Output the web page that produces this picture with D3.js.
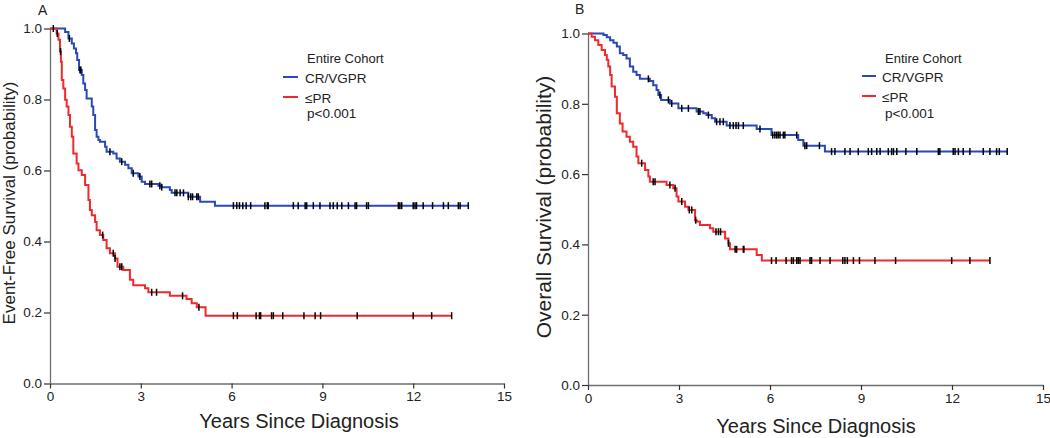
<!DOCTYPE html>
<html><head><meta charset="utf-8">
<script src="https://cdn.jsdelivr.net/npm/d3@7"></script>
<style>
html,body{margin:0;padding:0;background:#fff;}
svg{display:block;font-family:"Liberation Sans",Arial,sans-serif;}
</style></head>
<body><svg id="chart" width="1050" height="438"></svg>
<script>
// ---------- DATA ----------
const xTicks = [0, 3, 6, 9, 12, 15];
const yTicks = [0.0, 0.2, 0.4, 0.6, 0.8, 1.0];
const seriesNames = ["CR/VGPR", "\u2264PR"];

// Panel A: Event-free survival
const aBlueT = [0, 0.50, 0.61, 0.72, 0.79, 0.86, 0.90, 0.96, 1.05, 1.10, 1.16, 1.21, 1.38, 1.43, 1.49, 1.54, 1.60, 1.65, 1.82, 1.87, 2.09, 2.20, 2.31, 2.48, 2.59, 2.70, 2.92, 3.03, 3.14, 3.58, 3.69, 3.96, 4.02, 4.57, 4.96, 5.45];
const aBlueS = [1.0, 0.99, 0.972, 0.958, 0.944, 0.930, 0.911, 0.883, 0.869, 0.845, 0.827, 0.803, 0.780, 0.756, 0.714, 0.695, 0.686, 0.681, 0.667, 0.653, 0.648, 0.634, 0.625, 0.616, 0.606, 0.592, 0.583, 0.568, 0.562, 0.557, 0.553, 0.545, 0.537, 0.526, 0.512, 0.501];
const aBlueEnd = 13.82;
const aBlueCens = [0.64, 0.99, 1.02, 1.98, 2.37, 2.75, 2.97, 3.30, 3.36, 3.63, 3.69, 4.13, 4.19, 4.30, 4.41, 4.57, 4.65, 4.71, 4.85, 4.90, 6.06, 6.17, 6.26, 6.37, 6.48, 6.63, 7.10, 7.18, 7.21, 8.04, 8.20, 8.43, 8.48, 8.70, 8.92, 9.25, 9.36, 9.49, 9.64, 9.86, 10.08, 10.13, 10.46, 10.52, 11.51, 11.56, 11.62, 12.00, 12.06, 12.11, 12.33, 12.64, 13.00, 13.16, 13.49, 13.55, 13.82];

const aRedT = [0, 0.22, 0.28, 0.33, 0.36, 0.39, 0.44, 0.50, 0.55, 0.61, 0.66, 0.72, 0.77, 0.88, 0.94, 1.05, 1.16, 1.27, 1.32, 1.38, 1.49, 1.54, 1.65, 1.76, 1.87, 1.98, 2.15, 2.23, 2.42, 2.64, 2.75, 3.14, 3.25, 3.96, 4.51, 4.68, 4.85, 5.14];
const aRedS = [1.0, 0.986, 0.968, 0.935, 0.906, 0.855, 0.831, 0.799, 0.780, 0.756, 0.723, 0.695, 0.648, 0.620, 0.601, 0.587, 0.559, 0.517, 0.489, 0.474, 0.455, 0.432, 0.418, 0.404, 0.381, 0.367, 0.352, 0.329, 0.320, 0.292, 0.277, 0.268, 0.257, 0.247, 0.238, 0.226, 0.215, 0.191];
const aRedEnd = 13.27;
const aRedCens = [0.11, 0.24, 0.35, 1.74, 2.09, 2.15, 2.31, 2.37, 3.36, 3.52, 4.38, 4.92, 6.06, 6.19, 6.81, 6.92, 6.96, 7.32, 7.38, 7.69, 8.39, 8.76, 8.94, 10.15, 12.00, 12.61, 13.27];

// Panel B: Overall survival
const bBlueT = [0, 0.51, 0.62, 0.73, 0.84, 0.95, 1.05, 1.16, 1.27, 1.38, 1.49, 1.60, 1.71, 2.04, 2.15, 2.26, 2.32, 2.41, 2.70, 2.98, 3.58, 3.80, 3.91, 4.08, 4.19, 4.57, 5.56, 6.05, 6.93, 7.10, 7.81];
const bBlueS = [1.0, 0.996, 0.989, 0.981, 0.974, 0.963, 0.944, 0.939, 0.929, 0.906, 0.891, 0.882, 0.871, 0.865, 0.853, 0.839, 0.825, 0.811, 0.801, 0.787, 0.778, 0.773, 0.768, 0.759, 0.749, 0.738, 0.728, 0.711, 0.697, 0.681, 0.664];
const bBlueEnd = 13.82;
const bBlueCens = [1.99, 2.37, 2.65, 2.76, 3.09, 3.31, 3.64, 3.69, 3.97, 4.24, 4.35, 4.46, 4.68, 4.79, 4.88, 4.96, 5.12, 5.67, 6.09, 6.16, 6.22, 6.27, 6.33, 6.44, 6.49, 6.88, 7.15, 7.21, 7.63, 8.03, 8.14, 8.47, 8.64, 8.91, 9.24, 9.35, 9.52, 9.63, 9.90, 10.01, 10.07, 10.18, 10.48, 10.84, 11.55, 11.60, 12.04, 12.10, 12.21, 12.37, 12.59, 13.03, 13.25, 13.47, 13.56, 13.82];

const bRedT = [0, 0.12, 0.23, 0.34, 0.45, 0.56, 0.62, 0.67, 0.73, 0.78, 0.89, 0.95, 1.05, 1.14, 1.27, 1.38, 1.49, 1.60, 1.66, 1.88, 1.99, 2.04, 2.59, 2.81, 2.92, 2.98, 3.20, 3.31, 3.53, 3.58, 3.69, 4.02, 4.13, 4.52, 4.63, 4.68, 5.56, 5.73];
const bRedS = [1.0, 0.991, 0.981, 0.967, 0.953, 0.939, 0.925, 0.906, 0.882, 0.849, 0.820, 0.773, 0.744, 0.721, 0.706, 0.692, 0.678, 0.650, 0.631, 0.612, 0.593, 0.578, 0.569, 0.560, 0.536, 0.522, 0.507, 0.498, 0.469, 0.465, 0.455, 0.446, 0.436, 0.417, 0.403, 0.386, 0.370, 0.354];
const bRedEnd = 13.25;
const bRedCens = [1.77, 2.15, 2.21, 2.70, 2.87, 3.09, 3.34, 3.42, 3.55, 4.22, 4.30, 4.37, 4.63, 4.85, 4.90, 5.12, 5.14, 6.05, 6.20, 6.53, 6.71, 6.77, 6.88, 6.93, 6.99, 7.32, 7.37, 7.65, 7.98, 8.40, 8.47, 8.55, 8.75, 8.95, 9.46, 10.14, 11.99, 12.59, 13.25];

// ---------- DRAW ----------
const svg = d3.select("#chart");
const BLUE = "#2a48b6", RED = "#ee2a2e";

const panels = [
  {letter:"A", lx:38, ly:11, x0:50, x1:504, yTop:28.5, yBot:383.5,
   ytitle:"Event-Free Survival (probability)", ytx:15, yts:17, yty:203,
   xtx:299, xty:428,
   leg:{lineX0:283, lineX1:298, textX:305, titleX:307, titleY:63, y1:83, y2:103, y3:118},
   series:[{t:aBlueT,s:aBlueS,end:aBlueEnd,c:aBlueCens,col:BLUE},{t:aRedT,s:aRedS,end:aRedEnd,c:aRedCens,col:RED}]},
  {letter:"B", lx:575, ly:10, x0:588, x1:1043, yTop:33.5, yBot:385,
   ytitle:"Overall Survival (probability)", ytx:551, yts:21, yty:207,
   xtx:816, xty:433,
   leg:{lineX0:862, lineX1:876, textX:882, titleX:885, titleY:63, y1:82, y2:102, y3:118},
   series:[{t:bBlueT,s:bBlueS,end:bBlueEnd,c:bBlueCens,col:BLUE},{t:bRedT,s:bRedS,end:bRedEnd,c:bRedCens,col:RED}]}
];

panels.forEach(p => {
  const x = d3.scaleLinear().domain([0, 15]).range([p.x0, p.x1]);
  const y = d3.scaleLinear().domain([0, 1]).range([p.yBot, p.yTop]);
  const g = svg.append("g");

  // axes
  const ax = g.append("g").attr("transform", `translate(0,${p.yBot})`)
    .call(d3.axisBottom(x).tickValues(xTicks).tickSize(5).tickSizeOuter(0).tickPadding(3));
  const ay = g.append("g").attr("transform", `translate(${p.x0},0)`)
    .call(d3.axisLeft(y).tickValues(yTicks).tickFormat(d3.format(".1f")).tickSize(6).tickSizeOuter(0).tickPadding(2));
  [ax, ay].forEach(a => {
    a.selectAll("path.domain").attr("stroke", "#6e6e6e").attr("stroke-width", 1.3);
    a.selectAll(".tick line").attr("stroke", "#333").attr("stroke-width", 1.2);
    a.selectAll(".tick text").attr("font-size", 13.5).attr("fill", "#222")
      .style("font-family", '"Liberation Sans",Arial,sans-serif');
  });

  // curves
  p.series.forEach(se => {
    const pts = se.t.map((t, i) => [t, se.s[i]]);
    pts.push([se.end, se.s[se.s.length - 1]]);
    const line = d3.line().x(d => x(d[0])).y(d => y(d[1])).curve(d3.curveStepAfter);
    g.append("path").attr("d", line(pts)).attr("fill", "none")
      .attr("stroke", se.col).attr("stroke-width", 2);
    const sAt = tt => { let v = se.s[0]; se.t.forEach((t0, i) => { if (t0 <= tt) v = se.s[i]; }); return v; };
    g.selectAll(null).data(se.c).enter().append("line")
      .attr("x1", d => x(d)).attr("x2", d => x(d))
      .attr("y1", d => y(sAt(d)) - 3.5).attr("y2", d => y(sAt(d)) + 3.5)
      .attr("stroke", "#000").attr("stroke-width", 1.5);
  });

  // titles
  g.append("text").attr("x", p.lx).attr("y", p.ly).attr("font-size", 14).attr("fill", "#222")
    .attr("dominant-baseline", "middle").text(p.letter);
  g.append("text").attr("transform", `translate(${p.ytx},${p.yty}) rotate(-90)`)
    .attr("text-anchor", "middle").attr("font-size", p.yts).attr("fill", "#222").text(p.ytitle);
  g.append("text").attr("x", p.xtx).attr("y", p.xty).attr("text-anchor", "middle")
    .attr("font-size", 20).attr("fill", "#222").text("Years Since Diagnosis");

  // legend
  const L = p.leg;
  g.append("text").attr("x", L.titleX).attr("y", L.titleY).attr("font-size", 13).attr("fill", "#222").text("Entire Cohort");
  [[BLUE, L.y1, seriesNames[0]], [RED, L.y2, seriesNames[1]]].forEach(([c, yy, name]) => {
    g.append("line").attr("x1", L.lineX0).attr("x2", L.lineX1).attr("y1", yy - 6).attr("y2", yy - 6)
      .attr("stroke", c).attr("stroke-width", 2);
    g.append("text").attr("x", L.textX).attr("y", yy).attr("font-size", 13.5).attr("fill", "#222").text(name);
  });
  g.append("text").attr("x", L.titleX).attr("y", L.y3).attr("font-size", 13.5).attr("fill", "#222").text("p<0.001");
});
</script></body></html>
